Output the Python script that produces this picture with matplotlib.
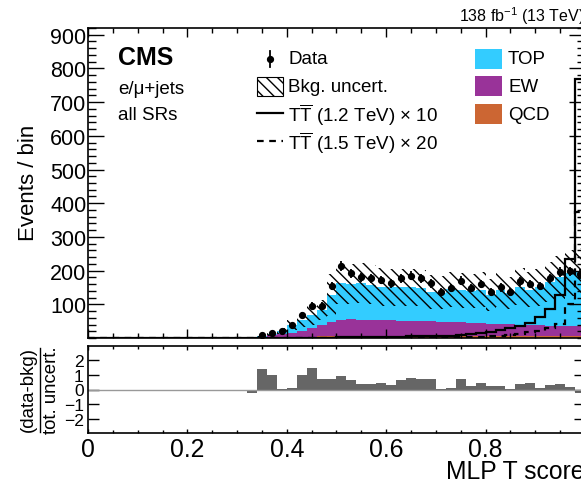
import numpy as np
import matplotlib.pyplot as plt
from matplotlib.ticker import MultipleLocator
from matplotlib.patches import Rectangle
from matplotlib.lines import Line2D

plt.rcParams['font.family'] = ['Liberation Sans', 'DejaVu Sans']
plt.rcParams['mathtext.fontset'] = 'custom'
plt.rcParams['mathtext.rm'] = 'Liberation Sans'
plt.rcParams['mathtext.it'] = 'Liberation Sans:italic'
plt.rcParams['mathtext.bf'] = 'Liberation Sans:bold'
plt.rcParams['hatch.linewidth'] = 1.0

# binning: 50 bins of 0.02 from 0 to 1
edges = np.round(np.linspace(0, 1, 51), 2)

# bins from 0.34 to 1.00 (33 bins)
data = [8, 15, 22, 39, 68, 96, 96, 155, 213, 192, 180, 177, 172, 162, 177, 185, 177,
        162, 136, 148, 170, 148, 160, 137, 150, 136, 168, 160, 154, 178, 196, 198, 190]
top = [2, 3, 9, 22, 30, 39, 46, 81, 109, 105, 110, 105, 99, 98, 99, 99, 98,
       87, 87, 96, 95, 94, 98, 85, 100, 93, 112, 104, 112, 129, 144, 157, 163]
ew = [2, 5, 8, 12, 18, 25, 33, 42, 48, 50, 49, 48, 48, 47, 46, 46, 45,
      44, 43, 43, 42, 41, 40, 38, 37, 36, 35, 34, 33, 32, 31, 30, 30]
qcd = [1, 3, 4, 4, 4, 4, 5, 5, 5, 5, 5, 5, 5, 5, 5, 5, 5,
       5, 5, 5, 5, 5, 5, 5, 5, 5, 5, 5, 5, 5, 5, 5, 5]
bkg_unc = [2, 4, 8, 14, 20, 28, 30, 62, 62, 60, 60, 58, 56, 55, 55, 55, 54,
           50, 50, 52, 52, 51, 52, 47, 51, 48, 55, 52, 54, 60, 64, 68, 70]

# signals, bins from 0.40 to 1.00 (30 bins)
sig_12 = [0.3, 0.5, 0.7, 1.0, 1.3, 1.6, 2.0, 2.4, 2.8, 3.2, 3.6, 4.0, 4.5, 5.0, 5.5,
          6.0, 7, 9, 12, 15, 19, 24, 29, 37, 46, 61, 86, 128, 235, 770]
sig_15 = [0.1, 0.1, 0.2, 0.2, 0.3, 0.3, 0.4, 0.5, 0.6, 0.7, 0.8, 1.0, 1.2, 1.4, 1.6,
          1.8, 2.0, 2.5, 3, 4, 5, 7, 9, 12, 17, 22, 30, 42, 100, 373]

# (data-bkg)/tot. uncert., bins from 0.32 to 1.00 (34 bins)
pull = [-0.27, 1.37, 0.97, 0.05, 0.1, 0.95, 1.45, 0.7, 0.7, 0.9, 0.65, 0.35, 0.4, 0.45,
        0.3, 0.65, 0.8, 0.7, 0.7, 0.02, 0.1, 0.73, 0.23, 0.42, 0.25, 0.22, 0.05, 0.38,
        0.45, 0.12, 0.3, 0.38, 0.18, -0.22]

c_top = '#33ccff'
c_ew = '#993399'
c_qcd = '#cc6633'
c_pull = '#666666'

W, H = 581, 489
def fx(x):
    return x / W
def fy(y):
    return 1 - y / H

fig = plt.figure(figsize=(W / 100, H / 100), dpi=100)
ax = fig.add_axes([fx(88), fy(339), 497 / W, 310 / H])
axr = fig.add_axes([fx(88), fy(434), 497 / W, 87 / H])

e_bkg = edges[17:]
qcd_a = np.array(qcd, float)
ew_a = qcd_a + np.array(ew)
tot = ew_a + np.array(top)
unc = np.array(bkg_unc, float)

ax.stairs(qcd_a, e_bkg, fill=True, color=c_qcd, lw=0)
ax.stairs(ew_a, e_bkg, baseline=qcd_a, fill=True, color=c_ew, lw=0)
ax.stairs(tot, e_bkg, baseline=ew_a, fill=True, color=c_top, lw=0)
ax.stairs(tot + unc, e_bkg, baseline=tot - unc, fill=True, facecolor='none',
          edgecolor='k', hatch='\\\\\\', lw=0)

sig12_full = np.concatenate([np.zeros(20), sig_12])
sig15_full = np.concatenate([np.zeros(20), sig_15])
ax.stairs(sig12_full, edges, color='k', lw=1.6)
ax.stairs(sig15_full, edges, color='k', lw=1.6, linestyle=(0, (3, 2.5)))

centers = (e_bkg[:-1] + e_bkg[1:]) / 2
ax.errorbar(centers, data, yerr=np.sqrt(data), fmt='o', color='k', ms=4.2,
            elinewidth=1.3, capsize=0, zorder=5)

ax.set_xlim(0, 1)
ax.set_ylim(0, 920)
ax.set_yticks(range(100, 1000, 100))
ax.yaxis.set_minor_locator(MultipleLocator(20))
ax.xaxis.set_major_locator(MultipleLocator(0.2))
ax.xaxis.set_minor_locator(MultipleLocator(0.05))
ax.tick_params(axis='x', which='both', direction='in', top=True, bottom=True,
               labelbottom=False)
ax.tick_params(axis='x', which='major', length=6.5, width=1)
ax.tick_params(axis='x', which='minor', length=3.6, width=1)
ax.tick_params(axis='y', which='both', direction='in', left=True, right=True,
               labelsize=15.5, pad=1)
ax.tick_params(axis='y', which='major', length=11.5, width=1)
ax.tick_params(axis='y', which='minor', length=5.8, width=1)
for s in ax.spines.values():
    s.set_linewidth(1.2)

# ratio panel
axr.axhline(0, color='#999999', lw=1)
axr.stairs(pull, edges[16:], fill=True, color=c_pull, lw=0)
axr.set_xlim(0, 1)
axr.set_ylim(-2.95, 2.95)
axr.set_yticks([-2, -1, 0, 1, 2])
axr.set_xticks([0, 0.2, 0.4, 0.6, 0.8, 1.0])
axr.set_xticklabels(['0', '0.2', '0.4', '0.6', '0.8', ''])
axr.xaxis.set_minor_locator(MultipleLocator(0.05))
axr.tick_params(axis='x', which='both', direction='in', top=True, bottom=True,
                labelsize=17.8, pad=3)
axr.tick_params(axis='x', which='major', length=3, width=1)
axr.tick_params(axis='x', which='minor', length=2, width=1)
axr.tick_params(axis='y', direction='in', left=True, right=True, length=8, width=1,
                labelsize=12.6, pad=3)
for s in axr.spines.values():
    s.set_linewidth(1.2)

# axis titles
fig.text(fx(28), fy(183), 'Events / bin', rotation=90, ha='center', va='center',
         fontsize=16)
fig.text(fx(585), fy(472), 'MLP T score', ha='right', va='center', fontsize=17.8)
fig.text(fx(28), fy(390), '(data-bkg)', rotation=90, ha='center', va='center',
         fontsize=13.4)
fig.text(fx(51), fy(390), 'tot. uncert.', rotation=90, ha='center', va='center',
         fontsize=13.4)
fig.add_artist(Line2D([fx(40), fx(40)], [fy(349), fy(433)], color='k', lw=1,
                      transform=fig.transFigure))

# labels
fig.text(fx(118), fy(58), 'CMS', fontsize=18, fontweight='bold', ha='left', va='center')
fig.text(fx(118), fy(89), 'e/\u03bc+jets', fontsize=13.5, ha='left', va='center')
fig.text(fx(118), fy(116), 'all SRs', fontsize=13.5, ha='left', va='center')
fig.text(fx(585), fy(16), r'138 fb$^{-1}$ (13 TeV)', fontsize=11.5, ha='right', va='center')

# legend, left column
fig.add_artist(Line2D([fx(270)], [fy(60)], marker='o', ms=4.2, color='k',
                      transform=fig.transFigure))
fig.add_artist(Line2D([fx(270), fx(270)], [fy(52), fy(68)], color='k', lw=1.3,
                      transform=fig.transFigure))
fig.add_artist(Rectangle((fx(257), fy(97)), 26 / W, 19 / H, facecolor='none',
                         edgecolor='k', hatch='\\\\\\', lw=0.8,
                         transform=fig.transFigure))
fig.add_artist(Line2D([fx(257), fx(283)], [fy(114), fy(114)], color='k', lw=1.6,
                      transform=fig.transFigure))
fig.add_artist(Line2D([fx(257), fx(283)], [fy(142), fy(142)], color='k', lw=1.6,
                      linestyle=(0, (3, 2.5)), transform=fig.transFigure))
leg_left = ['Data', 'Bkg. uncert.',
            r'T$\overline{\mathrm{T}}$ (1.2 TeV) ' + '\u00d7 10',
            r'T$\overline{\mathrm{T}}$ (1.5 TeV) ' + '\u00d7 20']
for txt, y in zip(leg_left, [60, 88, 115, 143]):
    fig.text(fx(288), fy(y), txt, fontsize=13.5, ha='left', va='center')

# legend, right column
for txt, col, y in zip(['TOP', 'EW', 'QCD'], [c_top, c_ew, c_qcd], [60, 87, 115]):
    fig.add_artist(Rectangle((fx(475), fy(y + 10)), 27 / W, 20 / H, facecolor=col,
                             edgecolor='none', transform=fig.transFigure))
    fig.text(fx(508), fy(y), txt, fontsize=13.5, ha='left', va='center')

fig.savefig('out.png', dpi=100)
